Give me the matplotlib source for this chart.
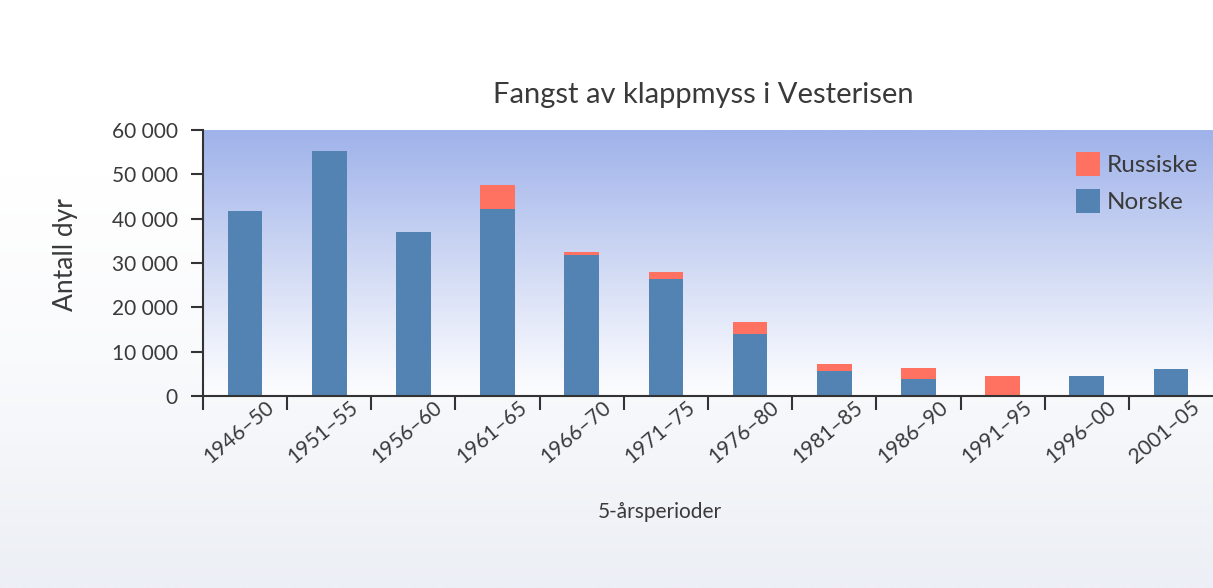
import numpy as np
import matplotlib
matplotlib.use("Agg")
import matplotlib.pyplot as plt
from matplotlib.patches import Patch
from matplotlib.colors import LinearSegmentedColormap
from matplotlib.transforms import ScaledTranslation

# Catch of hooded seals in the West Ice, per five-year period
perioder = ["1946–50", "1951–55", "1956–60", "1961–65", "1966–70", "1971–75",
            "1976–80", "1981–85", "1986–90", "1991–95", "1996–00", "2001–05"]
norske = [41700, 55200, 37000, 42100, 31800, 26300, 14000, 5600, 3800, 0, 4500, 6100]
russiske = [0, 0, 0, 5500, 600, 1700, 2600, 1600, 2500, 4500, 0, 0]
y_ticks = [0, 10000, 20000, 30000, 40000, 50000, 60000]
y_labels = ["0", "10 000", "20 000", "30 000", "40 000", "50 000", "60 000"]

plt.rcParams["font.family"] = ["Lato", "DejaVu Sans"]
TEXT = "#3a3a3a"
BLUE = "#5383b2"
RED = "#ff7262"

fig = plt.figure(figsize=(12.13, 5.88), dpi=100)
fig.patch.set_facecolor("white")

# faint page tint towards the bottom edge
bg = fig.add_axes([0, 0, 1, 1], zorder=-10)
bg.set_axis_off()
page = LinearSegmentedColormap.from_list(
    "page", [(0.0, "#ffffff"), (0.30, "#ffffff"), (0.62, "#f9fafc"), (1.0, "#eceff5")])
bg.imshow(np.linspace(0, 1, 256).reshape(-1, 1), cmap=page, aspect="auto",
          extent=[0, 1, 0, 1], transform=bg.transAxes)

ax = fig.add_axes([203 / 1213, 1 - 396 / 588, 1010 / 1213, 266 / 588])
ax.patch.set_alpha(0)

# blue-to-white gradient inside the plotting area
sky = LinearSegmentedColormap.from_list(
    "sky", [(0.0, "#fdfdff"), (0.12, "#f4f6fd"), (0.5, "#d0d9f4"), (1.0, "#9fb2ea")])
ax.imshow(np.linspace(0, 1, 256).reshape(-1, 1)[::-1], cmap=sky, aspect="auto",
          extent=[0, 1, 0, 1], transform=ax.transAxes, zorder=0)

x = np.arange(len(perioder))
w = 0.41
ax.bar(x, norske, width=w, color=BLUE, zorder=2, label="Norske")
ax.bar(x, russiske, width=w, bottom=norske, color=RED, zorder=2, label="Russiske")

ax.set_xlim(-0.5, len(perioder) - 0.5)
ax.set_ylim(0, 60000)

for side in ("top", "right"):
    ax.spines[side].set_visible(False)
for side in ("left", "bottom"):
    ax.spines[side].set_color("#333333")
    ax.spines[side].set_linewidth(1.5)

ax.set_yticks(y_ticks)
ax.set_yticklabels(y_labels)
ax.tick_params(axis="y", direction="out", length=9, width=1.5, color="#333333",
               labelsize=15, labelcolor=TEXT, pad=9)

# category boundaries carry the tick marks, labels sit at bar centres
ax.set_xticks(x)
ax.set_xticklabels(perioder)
ax.set_xticks(np.arange(-0.5, len(perioder) - 0.5, 1.0), minor=True)
ax.tick_params(axis="x", which="major", length=0, labelsize=15, labelcolor=TEXT, pad=1)
ax.tick_params(axis="x", which="minor", direction="out", length=10, width=1.5,
               color="#333333")
shift = ScaledTranslation(20 / 100, 0, fig.dpi_scale_trans)
for lab in ax.get_xticklabels():
    lab.set_rotation(40)
    lab.set_ha("right")
    lab.set_rotation_mode("anchor")
    lab.set_transform(lab.get_transform() + shift)

fig.text(65 / 1213, 1 - 255 / 588, "Antall dyr", rotation=90, ha="center",
         va="center", fontsize=19, color=TEXT)
fig.text(660 / 1213, 1 - 512 / 588, "5-årsperioder", ha="center", va="center",
         fontsize=15, color=TEXT)
fig.text(703 / 1213, 1 - 95 / 588, "Fangst av klappmyss i Vesterisen",
         ha="center", va="center", fontsize=21, color=TEXT)

handles = [Patch(facecolor=RED, label="Russiske"), Patch(facecolor=BLUE, label="Norske")]
ax.legend(handles=handles, loc="upper left", bbox_to_anchor=(1064 / 1213, 1 - 140 / 588),
          bbox_transform=fig.transFigure, frameon=False, fontsize=17.5,
          handlelength=1.0, handleheight=1.15, handletextpad=0.25, labelspacing=0.5,
          labelcolor=TEXT, borderpad=0)

fig.savefig("out.png", dpi=100)
